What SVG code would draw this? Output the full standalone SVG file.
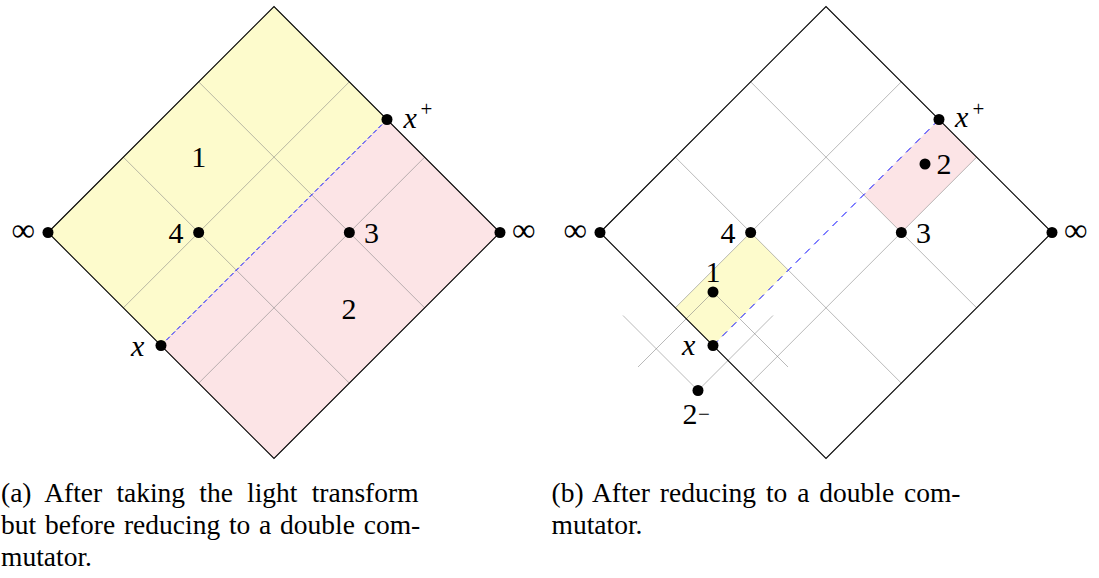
<svg xmlns="http://www.w3.org/2000/svg" width="1099" height="578" viewBox="0 0 1099 578">
  <style>
    .grid { stroke: #7f7f7f; stroke-opacity: 0.55; stroke-width: 1; fill: none; }
    .edge { stroke: #000; stroke-width: 1.1; fill: none; stroke-linejoin: miter; }
    .blue { stroke: #0000ff; stroke-width: 1; fill: none; }
    .yellow { fill: #fdfbcc; stroke: none; }
    .pink { fill: #fce4e6; stroke: none; }
    .dot { fill: #000; }
    .lbl { font-family: "Liberation Serif", "Times New Roman", serif; font-size: 30px; fill: #000; }
    .it { font-style: italic; }
    .sup { font-family: "Liberation Serif", "Times New Roman", serif; font-size: 21px; fill: #000; }
    .inf { font-family: "Liberation Serif", "Times New Roman", serif; font-size: 33px; fill: #000; }
    .cap { font-family: "Liberation Serif", "Times New Roman", serif; font-size: 27.5px; fill: #000; }
  </style>

  <!-- ===== Diagram (a) ===== -->
  <g id="diagram-a">
    <g id="a-regions">
      <polygon class="yellow" points="48,232.5 274,6.5 387,119.5 161,345.5"/>
      <polygon class="pink" points="161,345.5 387,119.5 500,232.5 274,458.5"/>
    </g>
    <g id="a-grid">
      <line class="grid" x1="123.33" y1="307.83" x2="349.33" y2="81.83"/>
      <line class="grid" x1="198.67" y1="383.17" x2="424.67" y2="157.17"/>
      <line class="grid" x1="123.33" y1="157.17" x2="349.33" y2="383.17"/>
      <line class="grid" x1="198.67" y1="81.83" x2="424.67" y2="307.83"/>
    </g>
    <polygon id="a-diamond" class="edge" points="48,232.5 274,6.5 500,232.5 274,458.5"/>
    <g id="a-connectors">
      <line class="blue" stroke-dasharray="5 2.5" x1="161" y1="345.5" x2="387" y2="119.5"/>
    </g>
    <g id="a-inf-left"><circle class="dot" cx="48" cy="232.5" r="5.5"/><text class="inf" x="35" y="241" text-anchor="end">∞</text></g>
    <g id="a-inf-right"><circle class="dot" cx="500" cy="232.5" r="5.5"/><text class="inf" x="512" y="241">∞</text></g>
    <g id="a-4"><circle class="dot" cx="198.67" cy="232.5" r="5.5"/><text class="lbl" x="183.5" y="243" text-anchor="end">4</text></g>
    <g id="a-3"><circle class="dot" cx="349.33" cy="232.5" r="5.5"/><text class="lbl" x="364" y="243">3</text></g>
    <g id="a-x"><circle class="dot" cx="161" cy="345.5" r="5.5"/><text class="lbl it" x="131" y="356">x</text></g>
    <g id="a-xplus"><circle class="dot" cx="387" cy="119.5" r="5.5"/><text class="lbl it" x="403.5" y="128">x</text><text class="sup" x="420.5" y="116">+</text></g>
    <g id="a-1"><text class="lbl" x="198.7" y="167" text-anchor="middle">1</text></g>
    <g id="a-2"><text class="lbl" x="349" y="318.5" text-anchor="middle">2</text></g>
  </g>

  <!-- ===== Diagram (b) ===== -->
  <g id="diagram-b">
    <g id="b-regions">
      <polygon class="yellow" points="675.33,307.83 750.67,232.5 788.33,270.17 713,345.5"/>
      <polygon class="pink" points="863.67,194.83 939,119.5 976.67,157.17 901.33,232.5"/>
    </g>
    <g id="b-grid">
      <line class="grid" x1="675.33" y1="307.83" x2="901.33" y2="81.83"/>
      <line class="grid" x1="750.67" y1="383.17" x2="976.67" y2="157.17"/>
      <line class="grid" x1="675.33" y1="157.17" x2="901.33" y2="383.17"/>
      <line class="grid" x1="750.67" y1="81.83" x2="976.67" y2="307.83"/>
      <line class="grid" x1="713" y1="292" x2="638" y2="367"/>
      <line class="grid" x1="713" y1="292" x2="788" y2="367"/>
      <line class="grid" x1="698" y1="390.5" x2="623" y2="315.5"/>
      <line class="grid" x1="698" y1="390.5" x2="773" y2="315.5"/>
    </g>
    <polygon id="b-diamond" class="edge" points="600,232.5 826,6.5 1052,232.5 826,458.5"/>
    <g id="b-connectors">
      <line class="blue" stroke-dasharray="7 6" x1="713" y1="345.5" x2="939" y2="119.5"/>
    </g>
    <g id="b-inf-left"><circle class="dot" cx="600" cy="232.5" r="5.5"/><text class="inf" x="587" y="241" text-anchor="end">∞</text></g>
    <g id="b-inf-right"><circle class="dot" cx="1052" cy="232.5" r="5.5"/><text class="inf" x="1064" y="241">∞</text></g>
    <g id="b-4"><circle class="dot" cx="750.67" cy="232.5" r="5.5"/><text class="lbl" x="735.5" y="243" text-anchor="end">4</text></g>
    <g id="b-3"><circle class="dot" cx="901.33" cy="232.5" r="5.5"/><text class="lbl" x="916" y="243">3</text></g>
    <g id="b-x"><circle class="dot" cx="713" cy="345.5" r="5.5"/><text class="lbl it" x="682" y="355">x</text></g>
    <g id="b-xplus"><circle class="dot" cx="939" cy="119.5" r="5.5"/><text class="lbl it" x="955" y="127">x</text><text class="sup" x="972.5" y="116">+</text></g>
    <g id="b-1"><circle class="dot" cx="713" cy="292" r="5.5"/><text class="lbl" x="713" y="282" text-anchor="middle">1</text></g>
    <g id="b-2"><circle class="dot" cx="925" cy="164" r="5.5"/><text class="lbl" x="936.5" y="174.3">2</text></g>
    <g id="b-2minus"><circle class="dot" cx="698" cy="390.5" r="5.5"/><text class="lbl" x="682.5" y="424">2</text><text class="sup" x="698" y="420.5">−</text></g>
  </g>

  <!-- ===== Captions ===== -->
  <g id="caption-a">
    <text class="cap" x="1" y="502" word-spacing="7.3">(a) After taking the light transform</text>
    <text class="cap" x="1" y="534" word-spacing="1.9">but before reducing to a double com-</text>
    <text class="cap" x="1" y="566">mutator.</text>
  </g>
  <g id="caption-b">
    <text class="cap" x="551.5" y="502" word-spacing="3">(b) After reducing to a double com-</text>
    <text class="cap" x="551.5" y="534">mutator.</text>
  </g>
</svg>
